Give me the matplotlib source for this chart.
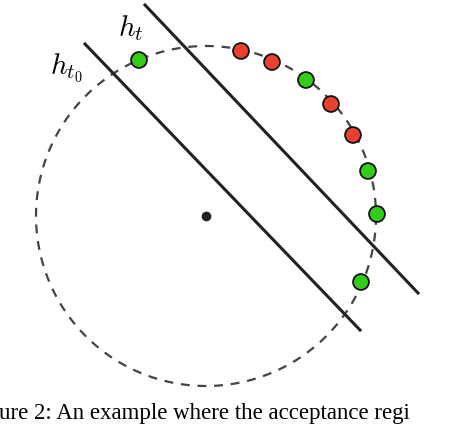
import numpy as np
import matplotlib.pyplot as plt
plt.rcParams['mathtext.fontset'] = 'cm'

circle_center = (206, 216)
circle_radius = 170
pt_x = [139, 241, 272, 306, 331, 353, 368, 377, 361]
pt_y = [60, 51, 62, 80, 104, 135, 171, 214, 282]
pt_color = ['g', 'r', 'r', 'g', 'r', 'r', 'g', 'g', 'g']
line_t0 = ([85, 360], [44, 330])
line_t = ([145, 418], [5, 293])
cols = {'g': '#33cc1a', 'r': '#e8412e'}

fig = plt.figure(figsize=(4.56, 4.24), dpi=100)
ax = fig.add_axes([0, 0, 1, 1])
ax.set_xlim(0, 456); ax.set_ylim(424, 0); ax.axis('off')

th = np.linspace(0, 2*np.pi, 400)
ax.plot(circle_center[0] + circle_radius*np.cos(th), circle_center[1] + circle_radius*np.sin(th),
        ls=(0, (4, 3.5)), color='#444444', lw=1.6)
ax.plot(*line_t0, color='#222222', lw=2.2)
ax.plot(*line_t, color='#222222', lw=2.2)
ax.plot(*circle_center, 'o', color='#222222', ms=6)
ax.scatter(pt_x, pt_y, s=130, c=[cols[c] for c in pt_color], edgecolors='#111111', linewidths=1.3, zorder=5)

ax.text(118, 28, r'$h_t$', fontsize=21, ha='left', va='center')
ax.text(50, 68, r'$h_{t_0}$', fontsize=21, ha='left', va='center')
ax.text(-1, 413, 'ure 2: An example where the acceptance regi', fontsize=16.5,
        family='Liberation Serif', ha='left', va='center')
fig.savefig('out.png', dpi=100)
